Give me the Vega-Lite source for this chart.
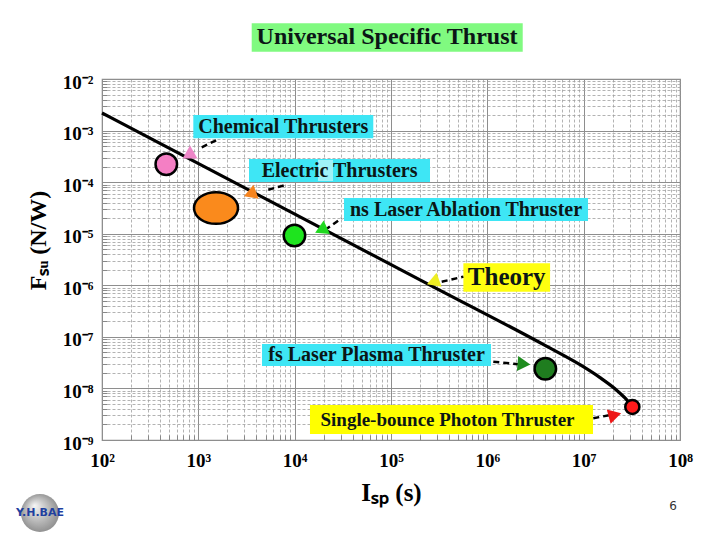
{
  "$schema": "https://vega.github.io/schema/vega-lite/v6.json",
  "width": 578,
  "height": 361,
  "autosize": {"type": "none"},
  "padding": {"left": 102, "top": 79, "right": 40, "bottom": 100},
  "background": "white",
  "config": {"view": {"stroke": "#8c8c8c", "strokeWidth": 1.2}},
  "datasets": {
    "curve": [
      {"isp": 100, "fsu": 0.00219},
      {"isp": 1040, "fsu": 0.000221},
      {"isp": 23280, "fsu": 1.05e-5},
      {"isp": 254000, "fsu": 1.01e-6},
      {"isp": 3970000, "fsu": 6.82e-8},
      {"isp": 9160000, "fsu": 2.88e-8},
      {"isp": 14790000, "fsu": 1.62e-8},
      {"isp": 21150000, "fsu": 9.84e-9},
      {"isp": 26850000, "fsu": 6.55e-9},
      {"isp": 31800000, "fsu": 4.52e-9}
    ],
    "markers": [
      {"name": "Chemical", "isp": 465, "fsu": 0.000222},
      {"name": "Electric", "isp": 1526, "fsu": 3.15e-5},
      {"name": "nsLaser", "isp": 9950, "fsu": 9.23e-6},
      {"name": "fsLaser", "isp": 4000000, "fsu": 2.41e-8},
      {"name": "Photon", "isp": 32000000, "fsu": 4.37e-9}
    ],
    "arrows": [
      {"name": "Chemical", "isp": 820, "fsu": 0.000384},
      {"name": "Electric", "isp": 3436, "fsu": 5.89e-5},
      {"name": "nsLaser", "isp": 18750, "fsu": 1.18e-5},
      {"name": "Theory", "isp": 273000, "fsu": 1.16e-6},
      {"name": "fsLaser", "isp": 2400000, "fsu": 2.97e-8},
      {"name": "Photon", "isp": 21100000, "fsu": 3.05e-9}
    ],
    "leaders": [
      {"name": "Chemical", "isp1": 1084, "fsu1": 0.000474, "isp2": 1611, "fsu2": 0.000678},
      {"name": "Electric", "isp1": 5321, "fsu1": 7.13e-5, "isp2": 8260, "fsu2": 8.91e-5},
      {"name": "nsLaser", "isp1": 20650, "fsu1": 1.18e-5, "isp2": 30760, "fsu2": 1.99e-5},
      {"name": "Theory", "isp1": 336000, "fsu1": 1.17e-6, "isp2": 564000, "fsu2": 1.47e-6},
      {"name": "fsLaser", "isp1": 1153000, "fsu1": 3.3e-8, "isp2": 2080000, "fsu2": 2.94e-8},
      {"name": "Photon", "isp1": 12590000, "fsu1": 2.64e-9, "isp2": 18800000, "fsu2": 3.05e-9}
    ],
    "labels": [
      {"name": "Title", "text": "Universal Specific Thrust", "tx": 91000, "ty": 0.0638, "bx1": 3581, "bx2": 2330000, "by1": 0.12, "by2": 0.0338},
      {"name": "Chemical", "text": "Chemical Thrusters", "tx": 7620, "ty": 0.00119, "bx1": 887, "bx2": 65460, "by1": 0.002, "by2": 0.000708},
      {"name": "Electric", "text": "Electric    Thrusters", "tx": 29240, "ty": 0.0001644, "bx1": 3357, "bx2": 254000, "by1": 0.000281, "by2": 0.0001007},
      {"name": "ElectricGap", "text": "", "tx": 20900, "ty": 0.000168, "bx1": 17460, "bx2": 25000, "by1": 0.000269, "by2": 0.0001052},
      {"name": "nsLaser", "text": "ns Laser Ablation Thruster", "tx": 601000, "ty": 2.94e-5, "bx1": 32510, "bx2": 11090000, "by1": 4.92e-5, "by2": 1.76e-5},
      {"name": "Theory", "text": "Theory", "tx": 1589000, "ty": 1.416e-6, "bx1": 564000, "bx2": 4480000, "by1": 2.67e-6, "by2": 7.52e-7},
      {"name": "fsLaser", "text": "fs Laser Plasma Thruster", "tx": 70800, "ty": 4.45e-8, "bx1": 4581, "bx2": 1092000, "by1": 7.26e-8, "by2": 2.72e-8},
      {"name": "Photon", "text": "Single-bounce Photon Thruster", "tx": 386000, "ty": 2.49e-9, "bx1": 14420, "bx2": 12500000, "by1": 4.76e-9, "by2": 1.31e-9}
    ],
    "footer": [
      {"name": "logo", "text": "Y.H.BAE", "isp": 22.7, "fsu": 3.84e-11},
      {"name": "page", "text": "6", "isp": 84700000, "fsu": 5.25e-11}
    ]
  },
  "layer": [
    {
      "data": {"name": "curve"},
      "mark": {"type": "line", "strokeOpacity": 0},
      "encoding": {
        "x": {
          "field": "isp", "type": "quantitative",
          "scale": {"type": "log", "domain": [100, 100000000]},
          "axis": {
            "orient": "bottom",
            "values": [200, 300, 400, 500, 600, 700, 800, 900, 2000, 3000, 4000, 5000, 6000, 7000, 8000, 9000, 20000, 30000, 40000, 50000, 60000, 70000, 80000, 90000, 200000, 300000, 400000, 500000, 600000, 700000, 800000, 900000, 2000000, 3000000, 4000000, 5000000, 6000000, 7000000, 8000000, 9000000, 20000000, 30000000, 40000000, 50000000, 60000000, 70000000, 80000000, 90000000],
            "grid": true, "gridDash": [3, 2], "gridColor": "#a0a0a0", "gridWidth": 0.8,
            "labels": false, "ticks": true, "tickSize": -5, "tickColor": "#888", "domain": false, "title": null
          }
        },
        "y": {
          "field": "fsu", "type": "quantitative",
          "scale": {"type": "log", "domain": [1e-9, 0.01]},
          "axis": {
            "orient": "left",
            "values": [2e-9, 3e-9, 4e-9, 5e-9, 6e-9, 7e-9, 8e-9, 9e-9, 2e-8, 3e-8, 4e-8, 5e-8, 6e-8, 7e-8, 8e-8, 9e-8, 2e-7, 3e-7, 4e-7, 5e-7, 6e-7, 7e-7, 8e-7, 9e-7, 2e-6, 3e-6, 4e-6, 5e-6, 6e-6, 7e-6, 8e-6, 9e-6, 2e-5, 3e-5, 4e-5, 5e-5, 6e-5, 7e-5, 8e-5, 9e-5, 0.0002, 0.0003, 0.0004, 0.0005, 0.0006, 0.0007, 0.0008, 0.0009, 0.002, 0.003, 0.004, 0.005, 0.006, 0.007, 0.008, 0.009],
            "grid": true, "gridDash": [3, 2], "gridColor": "#a0a0a0", "gridWidth": 0.8,
            "labels": false, "ticks": true, "tickSize": -5, "tickColor": "#888", "domain": false, "title": null
          }
        }
      }
    },
    {
      "data": {"name": "curve"},
      "mark": {"type": "line", "strokeOpacity": 0},
      "encoding": {
        "x": {
          "field": "isp", "type": "quantitative",
          "axis": {
            "orient": "bottom",
            "values": [100, 1000, 10000, 100000, 1000000, 10000000, 100000000],
            "grid": true, "gridColor": "#8e8e8e", "gridWidth": 1,
            "ticks": false, "domain": false,
            "labelExpr": "'10' + (datum.value < 1 ? '⁻' : '') + substring('⁰¹²³⁴⁵⁶⁷⁸⁹', abs(round(log(datum.value) / LN10)), abs(round(log(datum.value) / LN10)) + 1)",
            "labelFont": "Liberation Serif", "labelFontSize": 19, "labelFontWeight": "bold", "labelColor": "#000",
            "labelPadding": 11, "labelFlush": false, "labelOverlap": false, "labelBound": false,
            "title": "Iₛₚ (s)", "titleFont": "Liberation Serif", "titleFontSize": 25, "titleFontWeight": "bold", "titleColor": "#000",
            "titleY": 52, "titleBaseline": "middle"
          }
        },
        "y": {
          "field": "fsu", "type": "quantitative",
          "axis": {
            "orient": "left",
            "values": [1e-9, 1e-8, 1e-7, 1e-6, 1e-5, 0.0001, 0.001, 0.01],
            "grid": true, "gridColor": "#8e8e8e", "gridWidth": 1,
            "ticks": false, "domain": false,
            "labelExpr": "'10' + (datum.value < 1 ? '⁻' : '') + substring('⁰¹²³⁴⁵⁶⁷⁸⁹', abs(round(log(datum.value) / LN10)), abs(round(log(datum.value) / LN10)) + 1)",
            "labelFont": "Liberation Serif", "labelFontSize": 19, "labelFontWeight": "bold", "labelColor": "#000",
            "labelPadding": 9, "labelOffset": 3, "labelFlush": false, "labelOverlap": false, "labelBound": false,
            "title": "Fₛᵤ (N/W)", "titleFont": "Liberation Serif", "titleFontSize": 24, "titleFontWeight": "bold", "titleColor": "#000",
            "titleAngle": 270, "titleX": -64, "titleY": 161, "titleAlign": "center", "titleBaseline": "middle"
          }
        }
      }
    },
    {
      "data": {"name": "labels"},
      "mark": {"type": "rect"},
      "encoding": {
        "x": {"field": "bx1", "type": "quantitative", "axis": null},
        "x2": {"field": "bx2"},
        "y": {"field": "by1", "type": "quantitative", "axis": null},
        "y2": {"field": "by2"},
        "fill": {
          "field": "name", "type": "nominal", "legend": null,
          "scale": {
            "domain": ["Title", "Chemical", "Electric", "ElectricGap", "nsLaser", "Theory", "fsLaser", "Photon"],
            "range": ["#80FA80", "#3EE6F5", "#3EE6F5", "#A0F2F8", "#3EE6F5", "#FFFF10", "#3EE6F5", "#FFFF00"]
          }
        }
      }
    },
    {
      "data": {"name": "labels"},
      "transform": [{"filter": "datum.text != ''"}],
      "mark": {"type": "text", "font": "Liberation Serif", "fontWeight": "bold", "align": "center", "baseline": "middle", "color": "#0b1616"},
      "encoding": {
        "x": {"field": "tx", "type": "quantitative", "axis": null},
        "y": {"field": "ty", "type": "quantitative", "axis": null},
        "text": {"field": "text"},
        "size": {
          "condition": [
            {"test": "datum.name === 'Title'", "value": 24},
            {"test": "datum.name === 'Theory'", "value": 25},
            {"test": "datum.name === 'Photon'", "value": 19}
          ],
          "value": 20
        }
      }
    },
    {
      "data": {"name": "curve"},
      "mark": {"type": "line", "color": "#000", "strokeWidth": 3.2, "interpolate": "monotone"},
      "encoding": {
        "x": {"field": "isp", "type": "quantitative", "axis": null},
        "y": {"field": "fsu", "type": "quantitative", "axis": null}
      }
    },
    {
      "data": {"name": "leaders"},
      "mark": {"type": "rule", "color": "#000", "strokeWidth": 2.5, "strokeDash": [6, 4]},
      "encoding": {
        "x": {"field": "isp1", "type": "quantitative", "axis": null},
        "y": {"field": "fsu1", "type": "quantitative", "axis": null},
        "x2": {"field": "isp2"},
        "y2": {"field": "fsu2"}
      }
    },
    {
      "data": {"name": "markers"},
      "transform": [{"filter": "datum.name !== 'Electric'"}],
      "mark": {"type": "point", "shape": "circle", "filled": true, "opacity": 1, "stroke": "#000", "strokeWidth": 2.5},
      "encoding": {
        "x": {"field": "isp", "type": "quantitative", "axis": null},
        "y": {"field": "fsu", "type": "quantitative", "axis": null},
        "fill": {
          "field": "name", "type": "nominal", "legend": null,
          "scale": {
            "domain": ["Chemical", "Electric", "nsLaser", "Theory", "fsLaser", "Photon"],
            "range": ["#F47FC4", "#FA8A1C", "#1EE41E", "#F2F21A", "#1F7D1F", "#FF1A1A"]
          }
        },
        "size": {
          "condition": {"test": "datum.name === 'Photon'", "value": 200},
          "value": 462
        }
      }
    },
    {
      "data": {"name": "markers"},
      "transform": [{"filter": "datum.name === 'Electric'"}],
      "mark": {"type": "point", "shape": "M-1,0A1,0.72,0,1,1,1,0A1,0.72,0,1,1,-1,0Z", "filled": true, "opacity": 1, "stroke": "#000", "strokeWidth": 2.5, "size": 1936},
      "encoding": {
        "x": {"field": "isp", "type": "quantitative", "axis": null},
        "y": {"field": "fsu", "type": "quantitative", "axis": null},
        "fill": {
          "field": "name", "type": "nominal", "legend": null,
          "scale": {
            "domain": ["Chemical", "Electric", "nsLaser", "Theory", "fsLaser", "Photon"],
            "range": ["#F47FC4", "#FA8A1C", "#1EE41E", "#F2F21A", "#1F7D1F", "#FF1A1A"]
          }
        }
      }
    },
    {
      "data": {"name": "arrows"},
      "mark": {"type": "point", "shape": "triangle-up", "filled": true, "opacity": 1, "strokeWidth": 0, "size": 220},
      "encoding": {
        "x": {"field": "isp", "type": "quantitative", "axis": null},
        "y": {"field": "fsu", "type": "quantitative", "axis": null},
        "fill": {
          "field": "name", "type": "nominal", "legend": null,
          "scale": {
            "domain": ["Chemical", "Electric", "nsLaser", "Theory", "fsLaser", "Photon"],
            "range": ["#EE86C8", "#F5841F", "#20D820", "#EEEE22", "#1E8C1E", "#EE1818"]
          }
        },
        "angle": {
          "condition": [
            {"test": "datum.name === 'Electric'", "value": 250},
            {"test": "datum.name === 'nsLaser'", "value": 245},
            {"test": "datum.name === 'Theory'", "value": 250},
            {"test": "datum.name === 'fsLaser'", "value": 95},
            {"test": "datum.name === 'Photon'", "value": 75}
          ],
          "value": 0
        }
      }
    },
    {
      "data": {"name": "footer"},
      "transform": [{"filter": "datum.name === 'logo'"}],
      "mark": {
        "type": "point", "shape": "circle", "filled": true, "opacity": 1, "size": 1444, "dx": 8,
        "fill": {"gradient": "radial", "x1": 0.35, "y1": 0.3, "r1": 0, "x2": 0.5, "y2": 0.5, "r2": 0.55,
                 "stops": [{"offset": 0, "color": "#f6f6f6"}, {"offset": 1, "color": "#8a8a8a"}]}
      },
      "encoding": {
        "x": {"field": "isp", "type": "quantitative", "axis": null},
        "y": {"field": "fsu", "type": "quantitative", "axis": null}
      }
    },
    {
      "data": {"name": "footer"},
      "transform": [{"filter": "datum.name === 'logo'"}],
      "mark": {"type": "text", "font": "DejaVu Sans", "fontWeight": "bold", "fontSize": 11, "color": "#1f3f9f", "align": "center", "baseline": "middle"},
      "encoding": {
        "x": {"field": "isp", "type": "quantitative", "axis": null},
        "y": {"field": "fsu", "type": "quantitative", "axis": null},
        "text": {"field": "text"}
      }
    },
    {
      "data": {"name": "footer"},
      "transform": [{"filter": "datum.name === 'page'"}],
      "mark": {"type": "text", "font": "DejaVu Sans", "fontSize": 12, "color": "#333", "align": "center", "baseline": "middle"},
      "encoding": {
        "x": {"field": "isp", "type": "quantitative", "axis": null},
        "y": {"field": "fsu", "type": "quantitative", "axis": null},
        "text": {"field": "text"}
      }
    }
  ],
  "resolve": {
    "scale": {"fill": "independent"},
    "axis": {"x": "independent", "y": "independent"}
  }
}
